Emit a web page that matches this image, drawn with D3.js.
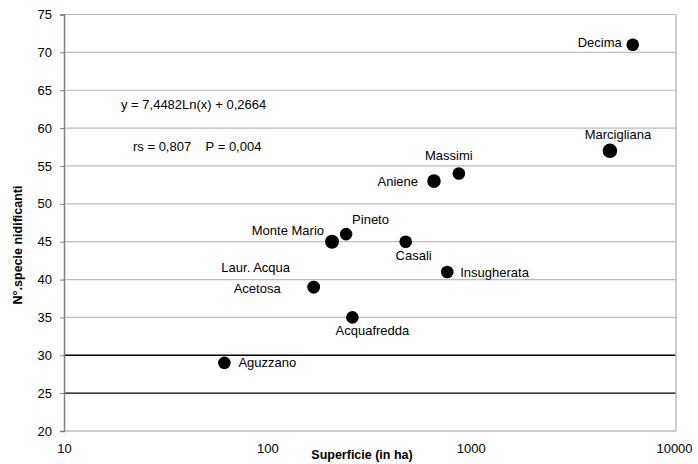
<!DOCTYPE html>
<html><head><meta charset="utf-8">
<script src="https://cdn.jsdelivr.net/npm/d3@7"></script>
<style>body{margin:0;background:#fff}svg{display:block;font-family:"Liberation Sans",Arial,sans-serif}</style>
</head><body><svg id="c" width="698" height="464"></svg>
<script>
const names = ["Decima","Marcigliana","Massimi","Aniene","Pineto","Monte Mario","Casali","Insugherata","Laur. Acqua","Acetosa","Acquafredda","Aguzzano"];
const area = [6270, 4840, 875, 660, 244, 208, 479, 767, 169, 169, 262, 61.5];
const species = [71, 57, 54, 53, 46, 45, 45, 41, 39, 39, 35, 29];
const xTicks = [10, 100, 1000, 10000];
const yTicks = [20,25,30,35,40,45,50,55,60,65,70,75];
const blackLines = [25, 30];
const equationText = "y = 7,4482Ln(x) + 0,2664";
const statsText = "rs = 0,807    P = 0,004";

// label placement (style): [dx, dy, anchor]
const labelPos = {
 "Decima":[-11,-2,"end"], "Marcigliana":[8,-16,"middle"], "Massimi":[-10,-18,"middle"],
 "Aniene":[-16,0,"end"], "Pineto":[6,-15,"start"], "Monte Mario":[-8,-11,"end"],
 "Casali":[8,14,"middle"], "Insugherata":[13,0,"start"], "Laur. Acqua":[-58,-20,"middle"],
 "Acetosa":[-33,1,"end"], "Acquafredda":[20,13,"middle"], "Aguzzano":[14,0,"start"]
};
const bigR = {"Marcigliana":7.3,"Monte Mario":7,"Aniene":6.8};

const svg = d3.select("#c");
const L=64, R=674, T=14.5, B=431;
const x = d3.scaleLog().domain([10,10000]).range([L,R]);
const y = d3.scaleLinear().domain([20,75]).range([B,T]);

// gridlines
svg.append("g").selectAll("line").data(yTicks.filter(v=>v>20)).join("line")
 .attr("x1",L).attr("x2",R+2).attr("y1",d=>y(d)).attr("y2",d=>y(d))
 .attr("stroke",d=>blackLines.includes(d)?"#000":"#bdbdbd").attr("stroke-width",d=>blackLines.includes(d)?1.3:1.2);
// frame right
svg.append("line").attr("x1",R+2).attr("x2",R+2).attr("y1",T).attr("y2",B).attr("stroke","#bdbdbd").attr("stroke-width",1.5);
svg.append("line").attr("x1",L).attr("x2",R+2).attr("y1",B).attr("y2",B).attr("stroke","#bdbdbd").attr("stroke-width",1.5);

// y axis
const ya = svg.append("g").attr("transform",`translate(${L},0)`)
 .call(d3.axisLeft(y).tickValues(yTicks).tickSize(4).tickPadding(8));
ya.select(".domain").attr("stroke","#808080").attr("stroke-width",1.5);
ya.selectAll(".tick line").attr("stroke","#808080");
ya.selectAll("text").attr("font-size",13).attr("fill","#000").attr("font-family","Liberation Sans, Arial, sans-serif");

// x axis labels
const xa = svg.append("g").attr("transform",`translate(0,${B})`)
 .call(d3.axisBottom(x).tickValues(xTicks).tickFormat(d3.format("d")).tickSize(0).tickPadding(13));
xa.select(".domain").remove();
xa.selectAll("text").attr("font-size",13).attr("fill","#000").attr("font-family","Liberation Sans, Arial, sans-serif");

// titles
svg.append("text").attr("x",362).attr("y",459).attr("text-anchor","middle").attr("font-size",12.5).attr("font-weight","bold").text("Superficie (in ha)");
svg.append("text").attr("transform","translate(22,245) rotate(-90)").attr("text-anchor","middle").attr("font-size",12.5).attr("font-weight","bold").text("N°.specie nidificanti");

// annotations
svg.append("text").attr("x",121).attr("y",109).attr("font-size",13).text(equationText);
svg.append("text").attr("x",133).attr("y",151).attr("font-size",13).attr("xml:space","preserve").style("white-space","pre").text(statsText);

// points
const data = names.map((n,i)=>({n, a:area[i], s:species[i]}));
svg.append("g").selectAll("circle").data(data).join("circle")
 .attr("cx",d=>x(d.a)).attr("cy",d=>y(d.s)).attr("r",d=>bigR[d.n]||6.3).attr("fill","#000");
svg.append("g").selectAll("text").data(data).join("text")
 .attr("x",d=>x(d.a)+labelPos[d.n][0]).attr("y",d=>y(d.s)+labelPos[d.n][1]).attr("dy","0.35em")
 .attr("text-anchor",d=>labelPos[d.n][2]).attr("font-size",13).text(d=>d.n);
</script></body></html>
